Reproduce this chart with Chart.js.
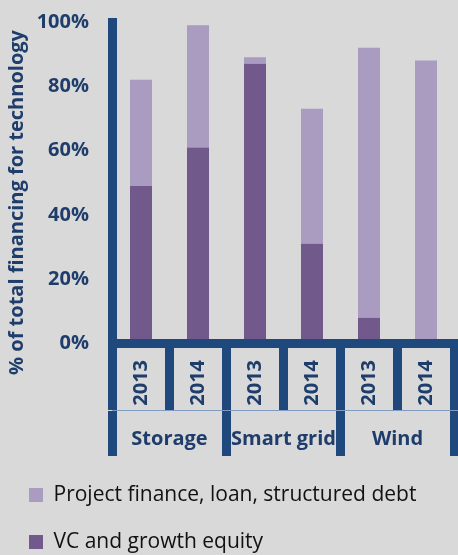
<!DOCTYPE html>
<html>
<head>
<meta charset="utf-8">
<script src="https://cdn.jsdelivr.net/npm/chart.js@4.4.1/dist/chart.umd.min.js"></script>
<style>
  html, body { margin: 0; padding: 0; background: #d9d9d9; overflow: hidden; }
</style>
</head>
<body>
<canvas id="financeChart" width="458" height="555"></canvas>
<script>
const years = ['2013', '2014', '2013', '2014', '2013', '2014'];
const technologies = ['Storage', 'Smart grid', 'Wind'];
const vcGrowth = [49, 61, 87, 31, 8, 0];
const projectFinance = [33, 38, 2, 42, 84, 88];
const yTicks = [0, 20, 40, 60, 80, 100];

const navy = '#1f497d';
const textNavy = '#1f3d6b';

Chart.defaults.font.family = "'Open Sans', sans-serif";

// y axis title, drawn by hand so it can sit a bit lower than the axis centre
const yTitle = {
    id: 'yTitle',
    afterDraw(chart) {
        const ctx = chart.ctx;
        ctx.save();
        ctx.translate(17.5, 202.5);
        ctx.rotate(-Math.PI / 2);
        ctx.font = "bold 20px 'Open Sans'";
        ctx.fillStyle = textNavy;
        ctx.textAlign = 'center';
        ctx.textBaseline = 'middle';
        ctx.fillText('% of total financing for technology', 0, 0);
        ctx.restore();
    }
};

const ctx = document.getElementById('financeChart');

new Chart(ctx, {
    type: 'bar',
    data: {
        labels: years,
        datasets: [{
            label: 'VC and growth equity',
            data: vcGrowth,
            backgroundColor: '#72598c',
            borderWidth: 0
        }, {
            label: 'Project finance, loan, structured debt',
            data: projectFinance,
            backgroundColor: '#aa9bc0',
            borderWidth: 0
        }]
    },
    options: {
        responsive: false,
        animation: false,
        barPercentage: 0.386,
        categoryPercentage: 1,
        layout: {
            padding: { top: 22, right: 3.5, bottom: -7.5, left: 3 }
        },
        plugins: {
            tooltip: { enabled: false },
            legend: {
                position: 'bottom',
                align: 'start',
                reverse: true,
                labels: {
                    boxWidth: 14,
                    boxHeight: 14,
                    padding: 26,
                    color: '#111111',
                    font: { size: 21 }
                }
            }
        },
        scales: {
            y: {
                stacked: true,
                min: 0,
                max: 100,
                afterBuildTicks: (scale) => {
                    scale.ticks = yTicks.map(v => ({ value: v }));
                },
                afterFit: (scale) => {
                    scale.width = 109.5;
                    scale.paddingTop = 0;
                    scale.paddingBottom = 0;
                },
                grid: { display: false, drawTicks: false },
                border: { display: true, width: 9, color: navy, z: 1 },
                ticks: {
                    padding: 23.5,
                    color: textNavy,
                    font: { size: 20, weight: 'bold' },
                    callback: v => v + '%'
                }
            },
            x: {
                stacked: true,
                afterFit: (scale) => { scale.height = 66.5; },
                grid: {
                    offset: true,
                    drawOnChartArea: false,
                    tickLength: 66.5,
                    lineWidth: 9,
                    color: navy
                },
                border: { display: true, width: 9, color: navy, z: 1 },
                ticks: {
                    autoSkip: false,
                    minRotation: 90,
                    maxRotation: 90,
                    padding: -50,
                    color: textNavy,
                    font: { size: 20, weight: 'bold' }
                }
            },
            x2: {
                type: 'category',
                position: 'bottom',
                labels: technologies,
                offset: true,
                afterFit: (scale) => { scale.height = 48.5; },
                grid: {
                    offset: true,
                    drawOnChartArea: false,
                    tickLength: 46,
                    lineWidth: 9,
                    color: navy
                },
                border: { display: true, width: 1, color: '#7f9cc0', z: 1 },
                ticks: {
                    padding: -28.5,
                    color: textNavy,
                    font: { size: 20, weight: 'bold' }
                }
            }
        }
    },
    plugins: [yTitle]
});
</script>
</body>
</html>
